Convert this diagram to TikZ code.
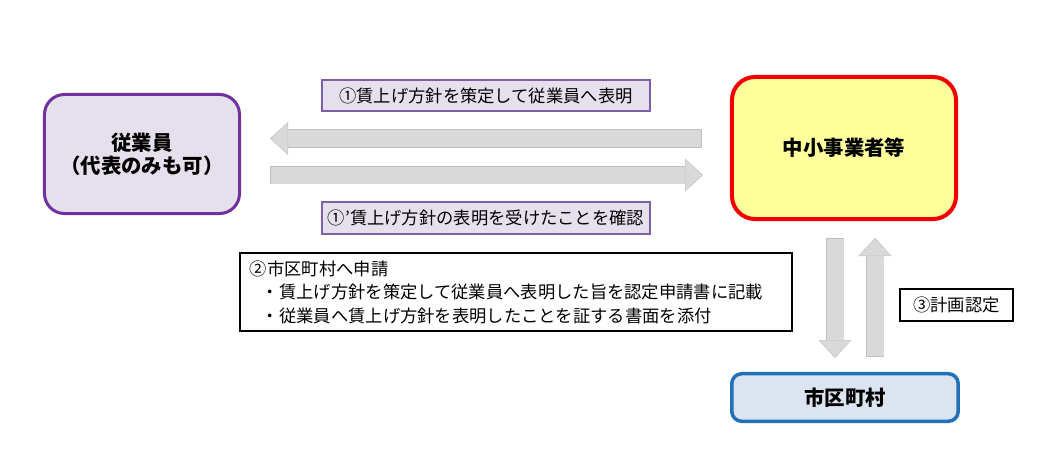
\documentclass[tikz,border=0pt]{standalone}
\usepackage{fontspec}
\setmainfont{Noto Sans CJK JP}
\usetikzlibrary{positioning,arrows.meta}
\definecolor{empline}{HTML}{7030A0}
\definecolor{empfill}{HTML}{E6E0EC}
\definecolor{smeline}{HTML}{F00000}
\definecolor{smefill}{HTML}{FFFF9C}
\definecolor{muniline}{HTML}{2270B8}
\definecolor{munifill}{HTML}{DCE4F1}
\definecolor{noteline}{HTML}{7F5FA8}
\definecolor{arrowfill}{HTML}{D9D9D9}
\definecolor{arrowline}{HTML}{BFBFBF}
\tikzset{%
	party/.style={%
		rectangle,
		align=center,
		line width=0.075cm,
		inner sep=0pt,
		font=\bfseries\fontsize{14.5pt}{16.5pt}\selectfont
	},
	notebox/.style={%
		rectangle,
		draw=noteline,
		fill=empfill,
		line width=0.03cm,
		inner sep=0pt,
		minimum width=8.2cm,
		font=\fontsize{12.3pt}{16.7pt}\selectfont
	},
	flowedge/.style={draw=arrowline, line width=0.4625cm, -{Triangle[length=0.45cm, width=0.825cm, line width=0pt]}},
	flowbody/.style={draw=arrowfill, line width=0.425cm, shorten >=0.03cm, shorten <=0.02cm, -{Triangle[length=0.41cm, width=0.775cm, line width=0pt]}}
}

\begin{document}
\begin{tikzpicture}[x=0.025cm, y=-0.025cm]
	\useasboundingbox (0,0) rectangle (1040,456);
	% parties
	\node [party, draw=empline, fill=empfill, minimum width=4.875cm, minimum height=2.975cm, rounded corners=0.5cm] (emp) at (142,154) {従業員\\（代表のみも可）};
	\node [party, draw=smeline, fill=smefill, line width=0.1cm, minimum width=5.6cm, minimum height=3.55cm, rounded corners=0.575cm] (sme) at (844,148) {中小事業者等};
	\node [party, draw=muniline, fill=munifill, line width=0.0875cm, minimum width=5.66cm, minimum height=1.19cm, rounded corners=0.25cm] (muni) at (845,397.5) {市区町村};
	% notes
	\node [notebox, minimum height=0.775cm] (announce) at (486,95.5) {①賃上げ方針を策定して従業員へ表明};
	\node [notebox, minimum height=0.8cm] (confirm) at (486,218) {①'賃上げ方針の表明を受けたことを確認};
	\node [notebox, draw=black, fill=white, text width=13.3cm, align=left, inner xsep=0.25cm, minimum height=1.95cm] (apply) at (516,292) {②市区町村へ申請\\\hspace*{0.3cm}・賃上げ方針を策定して従業員へ表明した旨を認定申請書に記載\\\hspace*{0.3cm}・従業員へ賃上げ方針を表明したことを証する書面を添付};
	\node [notebox, draw=black, fill=white, minimum width=2.825cm, minimum height=0.8cm] (cert) at (956.5,305) {③計画認定};
	% arrows
	\coordinate (toemp-s) at (702,138.5);
	\coordinate (toemp-t) at (270,138.5);
	\coordinate (tosme-s) at (270,175);
	\coordinate (tosme-t) at (703,175);
	\coordinate (tomuni-s) at (835,238);
	\coordinate (tomuni-t) at (835,358);
	\coordinate (back-s) at (875,357);
	\coordinate (back-t) at (875,238);
	\foreach \s/\t in {toemp-s/toemp-t, tosme-s/tosme-t, tomuni-s/tomuni-t, back-s/back-t} {
		\draw [flowedge] (\s) -- (\t);
		\draw [flowbody] (\s) -- (\t);
	}
\end{tikzpicture}
\end{document}
